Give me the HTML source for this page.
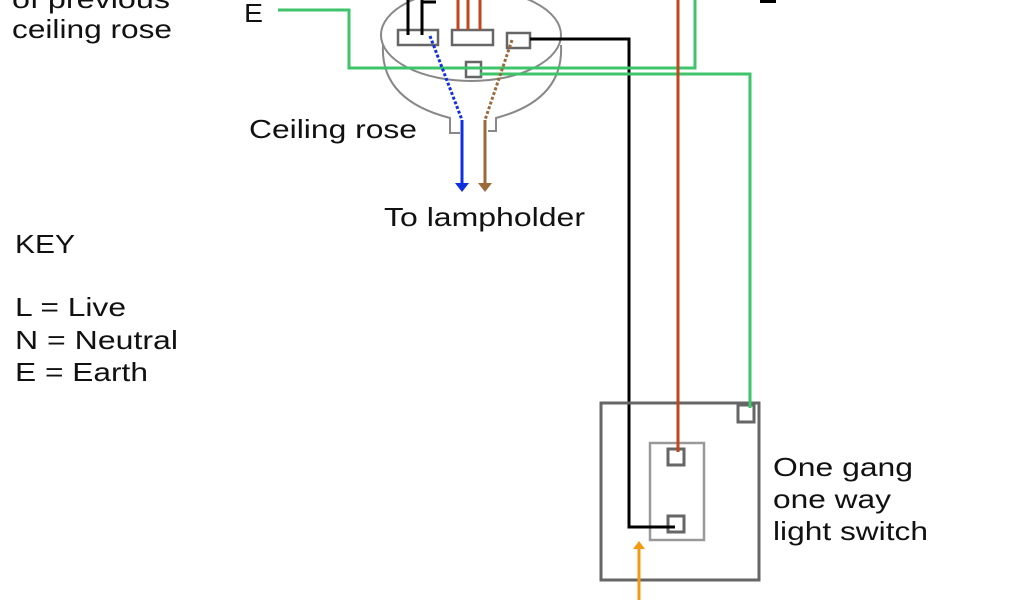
<!DOCTYPE html>
<html><head><meta charset="utf-8"><style>
html,body{margin:0;padding:0;background:#fff;width:1024px;height:600px;overflow:hidden}
svg text{font-family:"Liberation Sans",sans-serif;font-size:26px;fill:#111}
</style></head><body>
<svg width="1024" height="600" viewBox="0 0 1024 600" xmlns="http://www.w3.org/2000/svg">
<g fill="none" stroke="#888" stroke-width="2">
<ellipse cx="471" cy="35" rx="90" ry="46"/>
<path d="M383 45 Q380 100 450 118 L450 133 L460 133"/>
<path d="M561 45 Q564 100 496 118 L496 131 L488 131"/>
</g>
<g fill="#fff" stroke="#666" stroke-width="2.5">
<rect x="398" y="30" width="40" height="15"/>
<rect x="452" y="30" width="41" height="15"/>
<rect x="507" y="33" width="23" height="15"/>
<rect x="466" y="62" width="15" height="15"/>
</g>
<g stroke="#000" stroke-width="3" fill="none">
<path d="M408 0 V35 M422 0 V35 M422 2 H436"/>
<path d="M530 39 H629 V527 H672"/>
</g>
<g stroke="#c0461e" stroke-width="3" fill="none">
<path d="M458 0 V30 M468 0 V30 M480 0 V30"/>
<path d="M678 0 V452"/>
</g>
<g stroke="#3ec46a" stroke-width="3" fill="none">
<path d="M278 10 H349 V68 H695 V0"/>
<path d="M480 74 H750 V408"/>
</g>
<path d="M430 36 L462 120" stroke="#1030e0" stroke-width="3" stroke-dasharray="3,2"/>
<path d="M462 120 V185" stroke="#1030e0" stroke-width="3"/>
<path d="M455 183 H469 L462 192 Z" fill="#1030e0"/>
<path d="M512 40 L485 120" stroke="#9a6a3a" stroke-width="3" stroke-dasharray="3,2"/>
<path d="M485 120 V185" stroke="#9a6a3a" stroke-width="3"/>
<path d="M478 183 H492 L485 192 Z" fill="#9a6a3a"/>
<rect x="601" y="403" width="158" height="177" fill="none" stroke="#666" stroke-width="3"/>
<rect x="650" y="443" width="54" height="97" fill="none" stroke="#999" stroke-width="2.5"/>
<g fill="#fff" stroke="#666" stroke-width="3">
<rect x="668" y="449" width="16" height="16"/>
<rect x="668" y="516" width="16" height="16"/>
<rect x="738" y="405" width="16" height="17"/>
</g>
<path d="M678 0 V452" stroke="#c0461e" stroke-width="3"/>
<path d="M629 527 H675" stroke="#000" stroke-width="3"/>
<path d="M750 395 V408" stroke="#3ec46a" stroke-width="3"/>
<path d="M639 600 V548" stroke="#f59a10" stroke-width="3"/>
<path d="M633 549 H645 L639 541 Z" fill="#f59a10"/>
<rect x="760" y="0" width="16" height="3" fill="#000"/>
<text x="12" y="8" textLength="158" lengthAdjust="spacingAndGlyphs">of previous</text>
<text x="12" y="38" textLength="160" lengthAdjust="spacingAndGlyphs">ceiling rose</text>
<text x="244" y="22" textLength="19" lengthAdjust="spacingAndGlyphs">E</text>
<text x="249" y="138" fill="#333" textLength="168" lengthAdjust="spacingAndGlyphs">Ceiling rose</text>
<text x="384" y="226" textLength="201" lengthAdjust="spacingAndGlyphs">To lampholder</text>
<text x="15" y="253" textLength="60" lengthAdjust="spacingAndGlyphs">KEY</text>
<text x="15" y="316" textLength="111" lengthAdjust="spacingAndGlyphs">L = Live</text>
<text x="15" y="349" textLength="163" lengthAdjust="spacingAndGlyphs">N = Neutral</text>
<text x="15" y="381" textLength="133" lengthAdjust="spacingAndGlyphs">E = Earth</text>
<text x="773" y="476" textLength="140" lengthAdjust="spacingAndGlyphs">One gang</text>
<text x="773" y="508" textLength="118" lengthAdjust="spacingAndGlyphs">one way</text>
<text x="773" y="540" textLength="155" lengthAdjust="spacingAndGlyphs">light switch</text>
</svg>
</body></html>
